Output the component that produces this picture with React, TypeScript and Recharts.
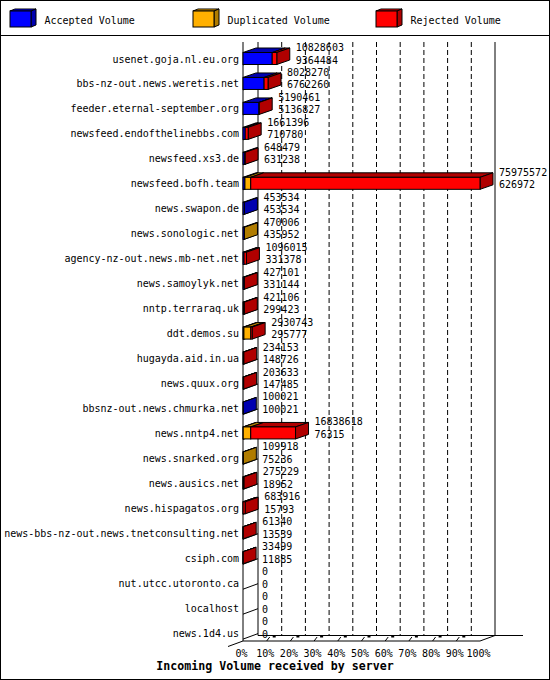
import { BarChart, Bar, XAxis, YAxis, CartesianGrid, Legend, LabelList } from "recharts";

const SERVERS = [
  "usenet.goja.nl.eu.org",
  "bbs-nz-out.news.weretis.net",
  "feeder.eternal-september.org",
  "newsfeed.endofthelinebbs.com",
  "newsfeed.xs3.de",
  "newsfeed.bofh.team",
  "news.swapon.de",
  "news.sonologic.net",
  "agency-nz-out.news.mb-net.net",
  "news.samoylyk.net",
  "nntp.terraraq.uk",
  "ddt.demos.su",
  "hugayda.aid.in.ua",
  "news.quux.org",
  "bbsnz-out.news.chmurka.net",
  "news.nntp4.net",
  "news.snarked.org",
  "news.ausics.net",
  "news.hispagatos.org",
  "news-bbs-nz-out.news.tnetconsulting.net",
  "csiph.com",
  "nut.utcc.utoronto.ca",
  "localhost",
  "news.1d4.us",
];

// first label line: total volume, second line: accepted volume
const TOTAL = [
  10828603, 8028270, 5190461, 1661396, 648479, 75975572, 453534, 470006, 1096015, 427101, 421106,
  2930743, 234153, 203633, 100021, 16838618, 109918, 275229, 683916, 61340, 33499, 0, 0, 0,
];
const ACCEPTED = [
  9364484, 6762260, 5136827, 710780, 631238, 626972, 453534, 435952, 331378, 331144, 299423,
  295777, 148726, 147485, 100021, 76315, 75236, 18952, 15793, 13539, 11885, 0, 0, 0,
];
// not labelled, estimated from the yellow parts of the bars
const DUPLICATED = [
  0, 0, 0, 0, 0, 1850000, 0, 34054, 0, 0, 0, 2200000, 0, 0, 0, 2400000, 34682, 0, 0, 0, 0, 0, 0, 0,
];

const TICKS = [0, 10, 20, 30, 40, 50, 60, 70, 80, 90, 100];
const TITLE = "Incoming Volume received by server";

const COLORS: Record<string, { name: string; front: string; dark: string }> = {
  acc: { name: "Accepted Volume", front: "#0000ff", dark: "#0000b0" },
  dup: { name: "Duplicated Volume", front: "#ffb000", dark: "#b07c00" },
  rej: { name: "Rejected Volume", front: "#ff0000", dark: "#b00000" },
};
const ORDER = ["acc", "dup", "rej"];

const MAX = Math.max(...TOTAL);
const pct = (v: number) => (v / MAX) * 100;

const rows = SERVERS.map((name, i) => ({
  name,
  acc: pct(ACCEPTED[i]),
  dup: pct(DUPLICATED[i]),
  rej: pct(TOTAL[i] - ACCEPTED[i] - DUPLICATED[i]),
}));

// layout of the pseudo-3d frame
const W = 550;
const H = 680;
const LEFT = 243;
const RIGHT = 480;
const WALL_TOP = 42;
const FLOOR_Y = 641;
const DX = 15; // wall depth
const DY = 5.5;
const BDX = 13; // bar depth
const BDY = 4.5;
const FONT = "'DejaVu Sans Mono', monospace";

const makeBox = (key: string) => (p: any) => {
  const { x, y, width, height, payload } = p;
  if (!(payload[key] > 0)) return <g />;
  const c = COLORS[key];
  const last = ORDER.slice(ORDER.indexOf(key) + 1).every((k) => !(payload[k] > 0));
  const r = x + width;
  return (
    <g stroke="#000" strokeWidth={1} strokeLinejoin="miter">
      <polygon
        points={`${x},${y} ${x + BDX},${y - BDY} ${r + BDX},${y - BDY} ${r},${y}`}
        fill={c.dark}
      />
      {last && (
        <polygon
          points={`${r},${y} ${r + BDX},${y - BDY} ${r + BDX},${y + height - BDY} ${r},${y + height}`}
          fill={c.dark}
        />
      )}
      <rect x={x} y={y} width={Math.max(width, 0.01)} height={height} fill={c.front} />
    </g>
  );
};

const renderVertical = (p: any) => {
  const x = p.x1;
  if (Math.abs(x - LEFT) < 0.5) {
    return (
      <g key={p.key} stroke="#000" strokeWidth={1}>
        <line x1={x} y1={WALL_TOP} x2={x} y2={FLOOR_Y} />
        <line x1={x + DX} y1={WALL_TOP} x2={x + DX} y2={FLOOR_Y - DY} />
        <line x1={x - DX} y1={FLOOR_Y + DY} x2={x} y2={FLOOR_Y} />
        <line x1={x} y1={FLOOR_Y} x2={RIGHT} y2={FLOOR_Y} />
        <line x1={x + DX} y1={FLOOR_Y - DY} x2={RIGHT + DX + 28} y2={FLOOR_Y - DY} />
      </g>
    );
  }
  if (Math.abs(x - RIGHT) < 0.5) {
    return (
      <g key={p.key} stroke="#000" strokeWidth={1}>
        <line x1={x} y1={FLOOR_Y} x2={x + DX} y2={FLOOR_Y - DY} />
        <line x1={x + DX} y1={WALL_TOP} x2={x + DX} y2={FLOOR_Y - DY} />
      </g>
    );
  }
  return (
    <line
      key={p.key}
      x1={x + DX}
      y1={WALL_TOP}
      x2={x + DX}
      y2={FLOOR_Y - DY}
      stroke="#000"
      strokeDasharray="5 3"
    />
  );
};

const renderHorizontal = (p: any) => {
  const y = p.y1;
  return (
    <line
      key={p.key}
      x1={LEFT}
      y1={y + 6}
      x2={LEFT + DX}
      y2={y + 6 - DY}
      stroke="#000"
    />
  );
};

const XTick = (p: any) => {
  const { x, payload } = p;
  const v = payload.value;
  return (
    <g>
      {v > 0 && v < 100 && (
        <g>
          <line x1={x} y1={FLOOR_Y} x2={x + 3} y2={FLOOR_Y - 4} stroke="#000" />
          <rect x={x + 6} y={FLOOR_Y - DY} width={3} height={2} fill="#000" />
        </g>
      )}
      <text
        x={x - 1.5}
        y={653}
        textAnchor="middle"
        dominantBaseline="central"
        fontFamily={FONT}
        fontSize={10}
        fill="#000"
      >
        {v}%
      </text>
    </g>
  );
};

const ValueLabel = (p: any) => {
  const { x, y, width, height, index } = p;
  const lx = x + width + BDX + 6;
  const c = y + height / 2;
  return (
    <g fontFamily={FONT} fontSize={10} fill="#000">
      <text x={lx} y={c - 11} dominantBaseline="central">
        {TOTAL[index]}
      </text>
      <text x={lx} y={c + 1.5} dominantBaseline="central">
        {ACCEPTED[index]}
      </text>
    </g>
  );
};

const LegendBox = ({ payload }: any) => (
  <svg width={W} height={36} style={{ display: "block" }}>
    {(payload || []).map((item: any, i: number) => {
      const c = COLORS[item.dataKey];
      const x0 = 10 + 183 * i;
      return (
        <g key={item.dataKey}>
          <g stroke="#000" strokeWidth={1}>
            <polygon points={`${x0},11 ${x0 + 5},9 ${x0 + 26},9 ${x0 + 21},11`} fill={c.front} />
            <polygon points={`${x0 + 21},11 ${x0 + 26},9 ${x0 + 26},25 ${x0 + 21},27`} fill={c.dark} />
            <rect x={x0} y={11} width={21} height={16} fill={c.front} />
          </g>
          <text x={x0 + 34.5} y={20.5} dominantBaseline="central" fontFamily={FONT} fontSize={10} fill="#000">
            {item.value}
          </text>
        </g>
      );
    })}
    <line x1={0} y1={35.5} x2={W} y2={35.5} stroke="#000" />
  </svg>
);

export default function App() {
  return (
    <div style={{ position: "absolute", left: 0, top: 0, width: W, height: H, background: "#fff" }}>
      <BarChart
        width={W}
        height={H}
        data={rows}
        layout="vertical"
        barSize={12}
        margin={{ top: 46.5, right: W - RIGHT, bottom: 0, left: 0 }}
      >
        <CartesianGrid syncWithTicks vertical={renderVertical} horizontal={renderHorizontal} />
        <XAxis
          type="number"
          domain={[0, 100]}
          ticks={TICKS}
          interval={0}
          height={34.4}
          axisLine={false}
          tickLine={false}
          tick={<XTick />}
          label={() => (
            <text
              x={W / 2}
              y={666}
              textAnchor="middle"
              dominantBaseline="central"
              fontFamily={FONT}
              fontSize={11.6}
              fontWeight="bold"
              fill="#000"
            >
              {TITLE}
            </text>
          )}
        />
        <YAxis
          type="category"
          dataKey="name"
          width={LEFT}
          interval={0}
          axisLine={false}
          tickLine={false}
          tickSize={0}
          tickMargin={4}
          tick={{ fontFamily: FONT, fontSize: 10, fill: "#000" }}
        />
        <Legend
          layout="vertical"
          align="center"
          verticalAlign="middle"
          wrapperStyle={{ top: 0, left: 0, width: W, height: 36 }}
          content={<LegendBox />}
        />
        {ORDER.map((k) => (
          <Bar
            key={k}
            dataKey={k}
            name={COLORS[k].name}
            stackId="v"
            fill={COLORS[k].front}
            shape={makeBox(k)}
            isAnimationActive={false}
          >
            {k === "rej" && <LabelList content={<ValueLabel />} />}
          </Bar>
        ))}
      </BarChart>
      <div
        style={{
          position: "absolute",
          inset: 0,
          border: "1px solid #000",
          pointerEvents: "none",
        }}
      />
    </div>
  );
}
